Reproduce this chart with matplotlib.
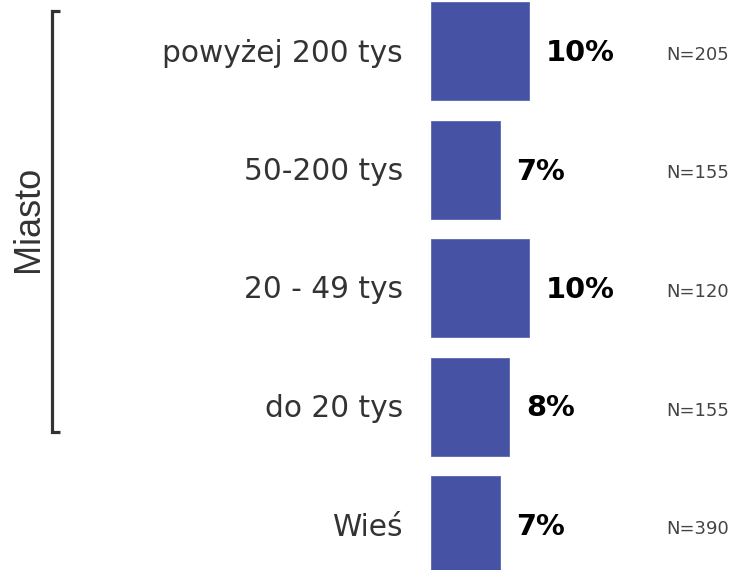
import matplotlib
matplotlib.use("Agg")
import matplotlib.pyplot as plt
from matplotlib.lines import Line2D

categories = ["powyżej 200 tys", "50-200 tys", "20 - 49 tys", "do 20 tys", "Wieś"]
values = [10, 7, 10, 8, 7]
n_labels = ["N=205", "N=155", "N=120", "N=155", "N=390"]
group_label = "Miasto"

W, H = 734, 570
fig = plt.figure(figsize=(W / 100, H / 100), dpi=100)

ax_left = 431
px_per_unit = 9.8
row_px = 118.5
first_center = 51
ax = fig.add_axes([ax_left / W, 0, 1 - ax_left / W, 1])
ax.set_xlim(0, (W - ax_left) / px_per_unit)
ax.set_ylim(4 + (H - (first_center + 4 * row_px)) / row_px, -first_center / row_px)
ax.axis("off")

bar_color = "#4652A3"
ys = list(range(len(categories)))
ax.barh(ys, values, height=98 / row_px, color=bar_color, edgecolor="#5B66B0", linewidth=0.6)

for y, v, cat, n in zip(ys, values, categories, n_labels):
    ax.annotate(f"{v}%", xy=(v, y), xytext=(17, -2), textcoords="offset pixels",
                ha="left", va="center", fontsize=20.8, fontweight="bold", color="black",
                family="DejaVu Sans")
    ax.annotate(cat, xy=(0, y), xytext=(-28, -2), textcoords="offset pixels",
                ha="right", va="center", fontsize=21.3, color="#333333",
                family="DejaVu Sans", annotation_clip=False)
    ax.annotate(n, xy=(0, y), xytext=(666 - ax_left, -4), textcoords="offset pixels",
                ha="left", va="center", fontsize=13, color="#444444",
                family="DejaVu Sans", annotation_clip=False)

# bracket for "Miasto"
def fx(px):
    return px / W

def fy(py):
    return 1 - py / H

bx, tick = 51.5, 8.5
top, bot = 10.5, 432
pts_x = [fx(bx + tick), fx(bx), fx(bx), fx(bx + tick)]
pts_y = [fy(top), fy(top), fy(bot), fy(bot)]
fig.add_artist(Line2D(pts_x, pts_y, color="#333333", linewidth=2.3,
                      solid_joinstyle="miter", solid_capstyle="butt"))
fig.text(fx(28.5), fy(219), group_label, rotation=90, ha="center", va="center",
         fontsize=26, color="#333333", family="Liberation Sans")

fig.savefig("out.png", dpi=100)
